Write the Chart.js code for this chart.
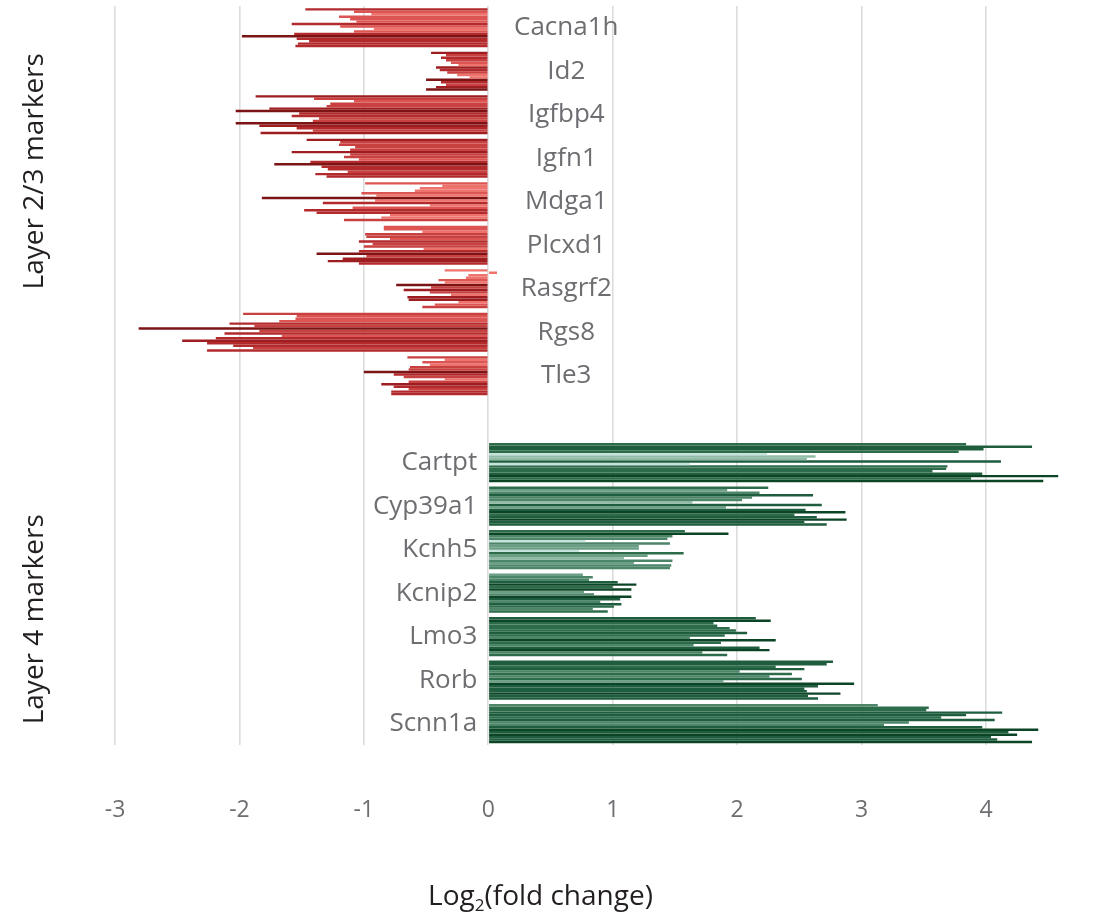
<!DOCTYPE html>
<html><head><meta charset="utf-8">
<script src="https://cdn.jsdelivr.net/npm/chart.js@4"></script>
<style>html,body{margin:0;padding:0;background:#fff;}</style>
</head><body>
<canvas id="c" width="1117" height="915"></canvas>
<script>
// ---- data ----
const genes = ['Cacna1h','Id2','Igfbp4','Igfn1','Mdga1','Plcxd1','Rasgrf2','Rgs8','Tle3','','Cartpt','Cyp39a1','Kcnh5','Kcnip2','Lmo3','Rorb','Scnn1a'];
const layer23Genes = ['Cacna1h','Id2','Igfbp4','Igfn1','Mdga1','Plcxd1','Rasgrf2','Rgs8','Tle3'];
const layer4Genes = ['Cartpt','Cyp39a1','Kcnh5','Kcnip2','Lmo3','Rorb','Scnn1a'];
const groupLabels = ['Layer 2/3 markers','Layer 4 markers'];
const xTicks = [-3,-2,-1,0,1,2,3,4];

const cacna1h = [-1.47,-1.08,-0.94,-1.20,-1.11,-1.06,-1.58,-1.19,-0.92,-1.08,-1.56,-1.98,-1.54,-1.44,-1.53,-1.55];
const id2     = [-0.46,-0.34,-0.38,-0.34,-0.30,-0.24,-0.42,-0.39,-0.33,-0.25,-0.15,-0.50,-0.38,-0.34,-0.42,-0.50];
const igfbp4  = [-1.87,-1.40,-1.08,-1.27,-1.30,-1.76,-2.03,-1.52,-1.58,-1.36,-1.41,-2.03,-1.84,-1.54,-1.41,-1.83];
const igfn1   = [-1.46,-1.19,-1.20,-1.07,-1.11,-1.58,-1.11,-1.16,-1.04,-1.43,-1.72,-1.34,-1.29,-1.13,-1.39,-1.30];
const mdga1   = [-0.99,-0.37,-0.55,-0.59,-1.02,-0.90,-1.82,-0.91,-1.33,-0.47,-1.09,-1.48,-1.38,-0.79,-0.86,-1.16];
const plcxd1  = [-0.84,-0.84,-0.53,-0.99,-0.98,-0.79,-1.04,-0.93,-1.00,-0.52,-1.04,-1.38,-0.98,-1.17,-1.29,-1.04];
const rasgrf2 = [-0.35,0.07,-0.16,-0.18,-0.40,-0.35,-0.74,-0.46,-0.68,-0.47,-0.30,-0.65,-0.64,-0.24,-0.43,-0.53];
const rgs8    = [-1.97,-1.54,-1.55,-1.68,-2.08,-1.88,-2.81,-1.84,-2.12,-1.66,-2.19,-2.46,-2.26,-2.05,-1.89,-2.26];
const tle3    = [-0.65,-0.35,-0.53,-0.47,-0.63,-0.64,-1.00,-0.76,-0.68,-0.35,-0.64,-0.86,-0.76,-0.64,-0.78,-0.78];
const cartpt  = [3.84,4.37,3.98,3.78,2.24,2.63,2.56,4.12,1.62,3.69,3.68,3.57,3.97,4.58,3.88,4.46];
const cyp39a1 = [2.25,1.92,2.18,2.61,2.12,2.04,1.64,2.68,1.91,2.55,2.87,2.46,2.64,2.88,2.54,2.72];
const kcnh5   = [1.58,1.93,1.48,1.44,0.78,1.46,1.21,1.21,0.73,1.57,1.28,1.09,1.48,1.17,1.47,1.46];
const kcnip2  = [0.76,0.84,0.81,1.04,1.19,1.00,1.15,0.77,0.85,1.15,1.06,0.90,1.07,1.01,0.84,0.96];
const lmo3    = [2.15,2.27,1.81,1.84,1.94,1.99,2.08,1.90,1.62,2.31,1.87,1.65,2.18,2.26,1.72,1.92];
const rorb    = [2.77,2.72,2.31,2.54,2.02,2.44,2.26,2.52,1.89,2.94,2.65,2.54,2.56,2.83,2.57,2.65];
const scnn1a  = [3.13,3.54,3.52,4.13,3.84,3.64,4.07,3.38,3.18,3.97,4.42,4.18,4.25,4.04,4.09,4.37];

const geneValues = [cacna1h,id2,igfbp4,igfn1,mdga1,plcxd1,rasgrf2,rgs8,tle3,null,cartpt,cyp39a1,kcnh5,kcnip2,lmo3,rorb,scnn1a];
const nSamples = 16;

// ---- styles ----
const redStops = ['#ee736d','#dc5552','#c8403f','#b32a2d','#9d1d21','#7c1315'];
const greenStops = ['#c5e3da','#8fbaa5','#6a9f85','#4c8567','#2d6c4b','#1e5d3d','#0c4426'];
function shade(gi, v){
  const arr = geneValues[gi];
  if (!arr || v == null) return 'rgba(0,0,0,0)';
  const m = Math.max(...arr.map(Math.abs));
  const r = Math.abs(v)/m;
  const stops = layer23Genes.includes(genes[gi]) ? redStops : greenStops;
  const t = Math.min(1, Math.max(0, (r-0.45)/0.55));
  return stops[Math.round(t*(stops.length-1))];
}

const datasets = [];
for (let j = 0; j < nSamples; j++) {
  datasets.push({
    label: 'Sample ' + (j+1),
    data: geneValues.map(a => a ? a[j] : null),
    backgroundColor: (ctx) => shade(ctx.dataIndex, ctx.raw),
    borderWidth: 0,
    barPercentage: 1.0,
    categoryPercentage: 0.9
  });
}

const FONT = '"Open Sans", "DejaVu Sans", sans-serif';
const labelPlugin = {
  id: 'customLabels',
  afterDatasetsDraw(chart) {
    const {ctx, scales: {x, y}} = chart;
    const x0 = x.getPixelForValue(0);
    ctx.save();
    ctx.font = '26px ' + FONT;
    ctx.fillStyle = '#6d6e71';
    ctx.textBaseline = 'middle';
    genes.forEach((g, i) => {
      if (!g) return;
      const yy = y.getPixelForValue(i);
      if (layer23Genes.includes(g)) {
        ctx.textAlign = 'center';
        ctx.fillText(g, x0 + 78, yy);
      } else {
        ctx.textAlign = 'right';
        ctx.fillText(g, x0 - 11, yy);
      }
    });
    // group labels
    ctx.fillStyle = '#231f20';
    ctx.font = '28px ' + FONT;
    ctx.textAlign = 'center';
    const gy = [y.getPixelForValue(3.3), y.getPixelForValue(13.6)];
    groupLabels.forEach((t, k) => {
      ctx.save();
      ctx.translate(35, gy[k]);
      ctx.rotate(-Math.PI/2);
      ctx.fillText(t, 0, 0);
      ctx.restore();
    });
    // axis title with subscript
    const cx = (x.getPixelForValue(-3) + x.getPixelForValue(4))/2 - 10;
    const ty = chart.height - 18;
    ctx.font = '28px ' + FONT;
    const a = 'Log', b = '2', c = '(fold change)';
    const wa = ctx.measureText(a).width, wc = ctx.measureText(c).width;
    ctx.font = '17px ' + FONT;
    const wb = ctx.measureText(b).width;
    const total = wa + wb + wc;
    let sx = cx - total/2;
    ctx.textAlign = 'left';
    ctx.font = '28px ' + FONT;
    ctx.fillText(a, sx, ty);
    ctx.font = '17px ' + FONT;
    ctx.fillText(b, sx + wa, ty + 9);
    ctx.font = '28px ' + FONT;
    ctx.fillText(c, sx + wa + wb, ty);
    ctx.restore();
  }
};

new Chart(document.getElementById('c'), {
  type: 'bar',
  data: { labels: genes, datasets },
  options: {
    indexAxis: 'y',
    responsive: false,
    animation: false,
    devicePixelRatio: 1,
    layout: { padding: { left: 115, right: 19, top: 6, bottom: 40 } },
    plugins: { legend: { display: false }, tooltip: { enabled: false } },
    scales: {
      x: {
        type: 'linear',
        min: -3,
        max: 4.9,
        grid: {
          color: (c) => xTicks.includes(c.tick && c.tick.value) ? '#dcdcdc' : 'rgba(0,0,0,0)',
          lineWidth: 1.6,
          drawTicks: false
        },
        border: { display: false },
        ticks: {
          stepSize: 1,
          includeBounds: false,
          padding: 51,
          color: '#6d6e71',
          font: { family: FONT, size: 23 },
          callback: (v) => xTicks.includes(v) ? String(v) : ''
        }
      },
      y: {
        type: 'category',
        display: false
      }
    }
  },
  plugins: [labelPlugin]
});
</script>
</body></html>
